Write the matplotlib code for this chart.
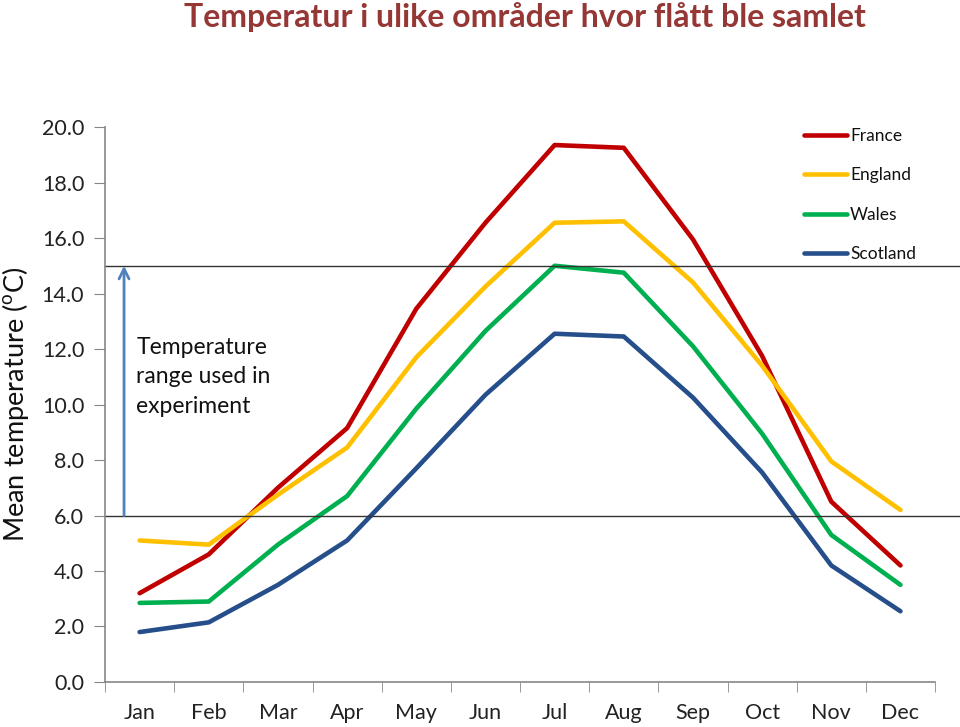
import matplotlib
matplotlib.use('Agg')
import matplotlib.pyplot as plt

# ------------------------------------------------------------------------------
# Data (mean monthly temperature, deg C)
# ------------------------------------------------------------------------------
months = ['Jan', 'Feb', 'Mar', 'Apr', 'May', 'Jun',
          'Jul', 'Aug', 'Sep', 'Oct', 'Nov', 'Dec']
france = [3.2, 4.6, 7.0, 9.15, 13.45, 16.55, 19.35, 19.25, 15.95, 11.75, 6.5, 4.2]
england = [5.1, 4.95, 6.75, 8.45, 11.7, 14.25, 16.55, 16.6, 14.4, 11.4, 7.95, 6.2]
wales = [2.85, 2.9, 4.95, 6.7, 9.85, 12.65, 15.0, 14.75, 12.1, 8.95, 5.3, 3.5]
scotland = [1.8, 2.15, 3.5, 5.1, 7.7, 10.35, 12.55, 12.45, 10.25, 7.55, 4.2, 2.55]

series = [('France', france, '#C00000'),
          ('England', england, '#FFC000'),
          ('Wales', wales, '#00B050'),
          ('Scotland', scotland, '#254E8A')]

range_low, range_high = 6.0, 15.0

plt.rcParams['font.family'] = ['Lato', 'DejaVu Sans']
plt.rcParams['mathtext.fontset'] = 'custom'
plt.rcParams['mathtext.rm'] = 'Lato'

fig = plt.figure(figsize=(9.6, 7.27), dpi=100)
ax = fig.add_axes([0.1094, 0.0619, 0.8646, 0.7634])

x = list(range(len(months)))
for name, vals, col in series:
    ax.plot(x, vals, color=col, lw=3.3, label=name, solid_capstyle='round',
            solid_joinstyle='round')

ax.set_xlim(-0.5, len(months) - 0.5)
ax.set_ylim(0, 20)
ax.set_yticks([i * 2.0 for i in range(11)])
ax.set_yticklabels(['%.1f' % (i * 2.0) for i in range(11)])
ax.set_xticks(x)
ax.set_xticklabels(months)
ax.set_xticks([i - 0.5 for i in range(len(months) + 1)], minor=True)
ax.tick_params(axis='x', which='major', length=0, pad=15, labelsize=15.5,
               labelcolor='#222222')
ax.tick_params(axis='x', which='minor', length=7, color='#868686')
ax.tick_params(axis='y', length=8, color='#868686', labelsize=15.5,
               labelcolor='#222222', pad=7)
for s in ['top', 'right']:
    ax.spines[s].set_visible(False)
for s in ['left', 'bottom']:
    ax.spines[s].set_color('#868686')
    ax.spines[s].set_linewidth(1.2)

ax.set_ylabel('Mean temperature ($^{\\mathrm{o}}$C)', fontsize=19.5, color='#111111')
ax.yaxis.set_label_coords(-0.089, 0.5)

# range lines running off to the right edge
ax.axhline(range_low, xmin=0, xmax=(960 - 105) / 830.0, color='#333333', lw=1,
           clip_on=False)
ax.axhline(range_high, xmin=0, xmax=(960 - 105) / 830.0, color='#333333', lw=1,
           clip_on=False)
ax.annotate('', xy=(-0.225, range_high), xytext=(-0.225, range_low),
            arrowprops=dict(arrowstyle='->', color='#4F81BD', lw=2,
                            shrinkA=0, shrinkB=0, mutation_scale=18))
ax.text(-0.05, 12.45, 'Temperature\nrange used in\nexperiment', fontsize=16.5,
        va='top', ha='left', color='#111111', linespacing=1.5)

leg = ax.legend(loc='upper left', bbox_to_anchor=(804 / 960.0, 1 - 128 / 727.0),
                bbox_transform=fig.transFigure, frameon=False, fontsize=12.5,
                handlelength=2.45, handletextpad=0.2, labelspacing=1.35,
                borderaxespad=0, borderpad=0)
for t in leg.get_texts():
    t.set_color('#111111')

fig.text(0.547, 0.976, 'Temperatur i ulike områder hvor flått ble samlet',
         ha='center', va='center', fontsize=23, fontweight='bold', color='#953735')

fig.savefig('out.png', dpi=100)
